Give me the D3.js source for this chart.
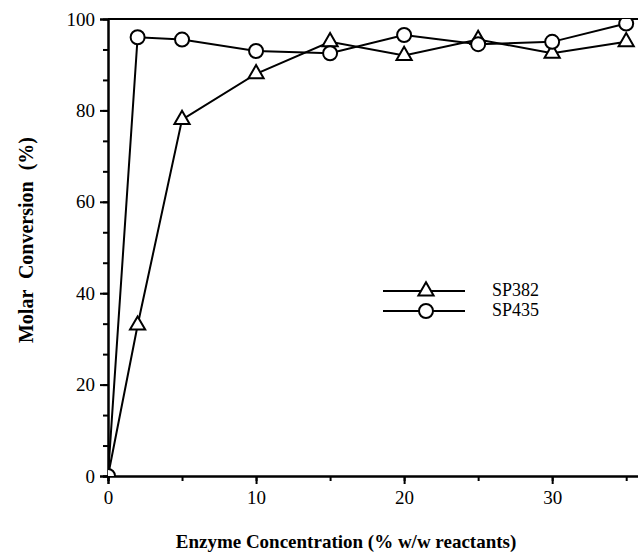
<!DOCTYPE html>
<html>
<head>
<meta charset="utf-8">
<script src="https://cdn.jsdelivr.net/npm/d3@7"></script>
<style>
  body { margin: 0; background: #fff; }
  svg { display: block; }
  text { font-family: "Liberation Serif", "Times New Roman", serif; fill: #000; }
</style>
</head>
<body>
<svg id="chart" width="638" height="554"></svg>
<script>
// enzyme loading (% w/w reactants)
var enzyme = [0, 2, 5, 10, 15, 20, 25, 30, 35];
// molar conversion (%)
var sp382 = [0, 33, 78, 88, 95, 92, 95.5, 92.5, 95];
var sp435 = [0, 96, 95.5, 93, 92.5, 96.5, 94.5, 95, 99];
var series_names = ["SP382", "SP435"];
var x_ticks = [0, 10, 20, 30];
var y_ticks = [0, 20, 40, 60, 80, 100];

var svg = d3.select("#chart");
var plot_l = 108, plot_r = 641, plot_t = 19, plot_b = 476;

var x = d3.scaleLinear().domain([0, 36]).range([plot_l, plot_r]);
var y = d3.scaleLinear().domain([0, 100]).range([plot_b, plot_t]);

svg.append("clipPath").attr("id", "plot")
  .append("rect")
  .attr("x", plot_l).attr("y", plot_t)
  .attr("width", plot_r - plot_l).attr("height", plot_b - plot_t);

// minor ticks first, then the labelled ones
var xAxisMinor = d3.axisBottom(x).tickValues(d3.range(0, 36, 5)).tickSize(5).tickFormat("");
var xAxis = d3.axisBottom(x).tickValues(x_ticks).tickSize(8).tickPadding(7);
var yAxisMinor = d3.axisLeft(y).tickValues(d3.range(0, 100, 20 / 3)).tickSize(5).tickFormat("");
var yAxis = d3.axisLeft(y).tickValues(y_ticks).tickSize(8).tickPadding(5);

function style_axis(g){
  g.selectAll(".domain").attr("stroke", "#000").attr("stroke-width", 2);
  g.selectAll(".tick line").attr("stroke", "#000").attr("stroke-width", 2);
  g.selectAll(".tick text").style("font-size", "19px").attr("fill", "#000");
}

svg.append("g").attr("transform", "translate(0," + plot_b + ")").call(xAxisMinor).call(style_axis);
svg.append("g").attr("transform", "translate(0," + plot_b + ")").call(xAxis).call(style_axis);
svg.append("g").attr("transform", "translate(" + plot_l + ",0)").call(yAxisMinor).call(style_axis);
svg.append("g").attr("transform", "translate(" + plot_l + ",0)").call(yAxis).call(style_axis);

// top frame line
svg.append("line")
  .attr("x1", plot_l).attr("x2", plot_r)
  .attr("y1", y(100)).attr("y2", y(100))
  .attr("stroke", "#000").attr("stroke-width", 2);

var line = d3.line()
  .x(function(d){ return x(d[0]); })
  .y(function(d){ return y(d[1]); });

var plot = svg.append("g").attr("clip-path", "url(#plot)");

var tri = d3.symbol().type(d3.symbolTriangle).size(100);

function draw_series(vals, shape){
  var pts = enzyme.map(function(e, i){ return [e, vals[i]]; });
  plot.append("path").datum(pts)
    .attr("d", line)
    .attr("fill", "none").attr("stroke", "#000").attr("stroke-width", 2);
  pts.forEach(function(p){
    if (shape == "circle"){
      plot.append("circle")
        .attr("cx", x(p[0])).attr("cy", y(p[1])).attr("r", 7)
        .attr("fill", "#fff").attr("stroke", "#000").attr("stroke-width", 2);
    }
    else {
      plot.append("path").attr("d", tri)
        .attr("transform", "translate(" + x(p[0]) + "," + y(p[1]) + ")")
        .attr("fill", "#fff").attr("stroke", "#000").attr("stroke-width", 2);
    }
  });
}

draw_series(sp382, "triangle");
draw_series(sp435, "circle");

// legend
var legend = svg.append("g");
[[series_names[0], "triangle", 291], [series_names[1], "circle", 311]].forEach(function(l){
  legend.append("line")
    .attr("x1", 383).attr("x2", 465).attr("y1", l[2]).attr("y2", l[2])
    .attr("stroke", "#000").attr("stroke-width", 2);
  if (l[1] == "circle"){
    legend.append("circle").attr("cx", 426).attr("cy", l[2]).attr("r", 7)
      .attr("fill", "#fff").attr("stroke", "#000").attr("stroke-width", 2);
  }
  else {
    legend.append("path").attr("d", tri)
      .attr("transform", "translate(426," + l[2] + ")")
      .attr("fill", "#fff").attr("stroke", "#000").attr("stroke-width", 2);
  }
  legend.append("text")
    .attr("x", 492).attr("y", l[2] + 5)
    .style("font-size", "18px")
    .text(l[0]);
});

// axis titles
svg.append("text")
  .attr("x", 346).attr("y", 548)
  .attr("text-anchor", "middle")
  .style("font-size", "19px").style("font-weight", "bold")
  .text("Enzyme Concentration (% w/w reactants)");

svg.append("text")
  .attr("transform", "translate(33,240) rotate(-90)")
  .attr("text-anchor", "middle")
  .style("font-size", "20px").style("font-weight", "bold")
  .style("word-spacing", "6px")
  .text("Molar Conversion (%)");
</script>
</body>
</html>
